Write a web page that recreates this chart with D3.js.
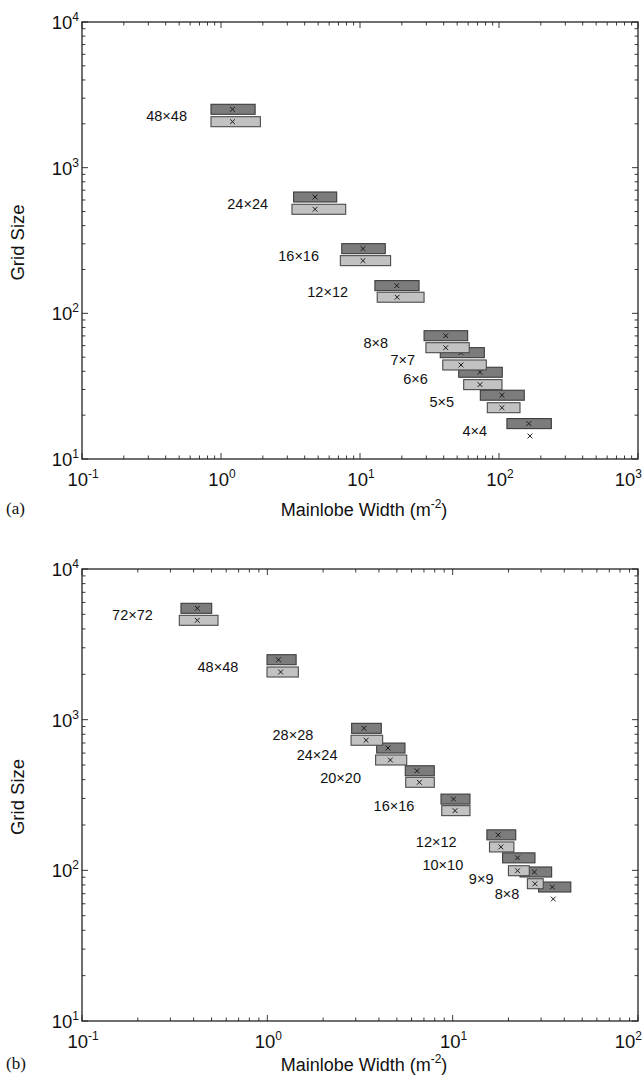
<!DOCTYPE html>
<html><head><meta charset="utf-8">
<script src="https://cdn.jsdelivr.net/npm/d3@7"></script>
<style>body{margin:0;background:#fff}</style>
</head><body>
<svg id="c" width="643" height="1077"></svg>
<script>
// ---------- Panel (a) data ----------
const labelsA   = ["48×48","24×24","16×16","12×12","8×8","7×7","6×6","5×5","4×4"];
const darkLoA   = [0.847, 3.33, 7.39, 12.8, 28.9, 37.8, 51.3, 73.4, 114];
const darkHiA   = [1.76, 6.80, 15.2, 26.6, 59.5, 78.4, 105.6, 152, 238];
const darkMidA  = [1.21, 4.75, 10.5, 18.4, 41.4, 53.3, 73.0, 105, 164];
const darkYA    = [2516, 629, 278, 155, 70.2, 53.7, 39.4, 27.4, 17.5];
const lightLoA  = [0.847, 3.24, 7.22, 13.3, 29.8, 39.4, 55.7, 82.4, null];
const lightHiA  = [1.92, 7.89, 16.6, 28.9, 61.1, 81.0, 105.1, 141.6, null];
const lightMidA = [1.21, 4.75, 10.5, 18.5, 41.4, 53.3, 73.0, 105, 167];
const lightYA   = [2068, 518, 230, 129, 58.1, 44.2, 32.4, 22.5, 14.4];
const labelXA   = [0.569, 2.18, 5.07, 8.20, 15.9, 24.9, 30.8, 47.5, 82.0];
const xTicksA   = [-1, 0, 1, 2, 3];   // exponents
const yTicksA   = [1, 2, 3, 4];

// ---------- Panel (b) data ----------
const labelsB   = ["72×72","48×48","28×28","24×24","20×20","16×16","12×12","10×10","9×9","8×8"];
const darkLoB   = [0.342, 0.996, 2.85, 3.89, 5.55, 8.65, 15.3, 18.6, 23.1, 29.1];
const darkHiB   = [0.501, 1.43, 4.12, 5.53, 7.96, 12.4, 21.9, 27.8, 34.2, 43.4];
const darkMidB  = [0.419, 1.15, 3.32, 4.48, 6.42, 10.1, 17.6, 22.4, 27.6, 34.5];
const darkYB    = [5483, 2500, 876, 648, 458, 297, 172, 121, 97.5, 77.5];
const lightLoB  = [0.335, 0.996, 2.83, 3.84, 5.58, 8.73, 15.8, 20.0, 25.3, null];
const lightHiB  = [0.542, 1.47, 4.19, 5.65, 7.96, 12.4, 21.4, 25.9, 30.8, null];
const lightMidB = [0.419, 1.18, 3.41, 4.61, 6.61, 10.3, 18.2, 22.4, 27.8, 34.9];
const lightYB   = [4564, 2072, 730, 540, 384, 249, 143, 99.4, 81.5, 64.5];
const labelXB   = [0.241, 0.697, 1.77, 2.39, 3.20, 6.21, 10.5, 11.4, 16.6, 22.9];
const xTicksB   = [-1, 0, 1, 2];
const yTicksB   = [1, 2, 3, 4];

const xTitle = "Mainlobe Width (m";
const yTitle = "Grid Size";

const svg = d3.select("#c");
const FONT = "Liberation Sans, Arial, Helvetica, sans-serif";
const TF = 18.5, SF = 12;

function panel(o) {
  const g = svg.append("g");
  const x = d3.scaleLog().domain([Math.pow(10, o.xT[0]), Math.pow(10, o.xT[o.xT.length-1])]).range([o.left, o.right]);
  const y = d3.scaleLog().domain([Math.pow(10, o.yT[0]), Math.pow(10, o.yT[o.yT.length-1])]).range([o.bottom, o.top]);

  // minor + major ticks (inside, all four sides)
  const tg = g.append("g").attr("stroke", "#222").attr("stroke-width", 0.9);
  for (let i = 0; i < o.xT.length; i++) {
    const base = Math.pow(10, o.xT[i]);
    const xv = x(base);
    tg.append("line").attr("x1", xv).attr("x2", xv).attr("y1", o.bottom).attr("y2", o.bottom - 6);
    tg.append("line").attr("x1", xv).attr("x2", xv).attr("y1", o.top).attr("y2", o.top + 6);
    if (i < o.xT.length - 1) for (let m = 2; m <= 9; m++) {
      const xm = x(base * m);
      tg.append("line").attr("x1", xm).attr("x2", xm).attr("y1", o.bottom).attr("y2", o.bottom - 3.5);
      tg.append("line").attr("x1", xm).attr("x2", xm).attr("y1", o.top).attr("y2", o.top + 3.5);
    }
  }
  for (let i = 0; i < o.yT.length; i++) {
    const base = Math.pow(10, o.yT[i]);
    const yv = y(base);
    tg.append("line").attr("y1", yv).attr("y2", yv).attr("x1", o.left).attr("x2", o.left + 6);
    tg.append("line").attr("y1", yv).attr("y2", yv).attr("x1", o.right).attr("x2", o.right - 6);
    if (i < o.yT.length - 1) for (let m = 2; m <= 9; m++) {
      const ym = y(base * m);
      tg.append("line").attr("y1", ym).attr("y2", ym).attr("x1", o.left).attr("x2", o.left + 3.5);
      tg.append("line").attr("y1", ym).attr("y2", ym).attr("x1", o.right).attr("x2", o.right - 3.5);
    }
  }
  g.append("rect").attr("x", o.left).attr("y", o.top).attr("width", o.right - o.left).attr("height", o.bottom - o.top)
    .attr("fill", "none").attr("stroke", "#222").attr("stroke-width", 1.3);

  // tick labels
  o.xT.forEach((e, i) => {
    const last = i === o.xT.length - 1;
    const t = g.append("text").attr("x", last ? 642 : x(Math.pow(10, e)) + 1).attr("y", o.bottom + 27)
      .attr("text-anchor", last ? "end" : "middle").attr("font-family", FONT).attr("font-size", TF).attr("fill", "#111");
    t.append("tspan").text("10");
    t.append("tspan").attr("dy", -8).attr("font-size", SF).text(String(e));
  });
  o.yT.forEach(e => {
    const t = g.append("text").attr("x", o.left - 3).attr("y", y(Math.pow(10, e)) + 7)
      .attr("text-anchor", "end").attr("font-family", FONT).attr("font-size", TF).attr("fill", "#111");
    t.append("tspan").text("10");
    t.append("tspan").attr("dy", -8).attr("font-size", SF).text(String(e));
  });

  // axis titles
  const xt = g.append("text").attr("x", (o.left + o.right) / 2 + 4).attr("y", o.bottom + o.xtOff)
    .attr("text-anchor", "middle").attr("font-family", FONT).attr("font-size", 18).attr("fill", "#111");
  xt.append("tspan").text(xTitle);
  xt.append("tspan").attr("dy", -8).attr("font-size", 12).text("-2");
  xt.append("tspan").attr("dy", 8).text(")");
  g.append("text").attr("transform", `translate(${o.left - 58},${(o.top + o.bottom) / 2 + 2}) rotate(-90)`)
    .attr("text-anchor", "middle").attr("font-family", FONT).attr("font-size", 18.5).attr("fill", "#111")
    .text(yTitle);
  g.append("text").attr("x", 6).attr("y", o.bottom + o.xtOff - 2).attr("font-family", "Liberation Serif, Times New Roman, serif")
    .attr("font-size", 17).attr("fill", "#111").text(o.tag);

  const H = 10;
  const rows = o.labels.map((lab, i) => ({
    lab, dLo: o.dLo[i], dHi: o.dHi[i], dMid: o.dMid[i], dY: o.dY[i],
    lLo: o.lLo[i], lHi: o.lHi[i], lMid: o.lMid[i], lY: o.lY[i], lx: o.lx[i]
  }));

  function boxes(lo, hi, yk, fill, stroke) {
    g.append("g").selectAll("rect").data(rows.filter(r => r[lo] != null)).join("rect")
      .attr("x", r => x(r[lo])).attr("width", r => x(r[hi]) - x(r[lo]))
      .attr("y", r => y(r[yk]) - H / 2).attr("height", H)
      .attr("fill", fill).attr("stroke", stroke).attr("stroke-width", 1.1);
  }
  function marks(mk, yk) {
    const s = 2.4;
    g.append("g").selectAll("path").data(rows).join("path")
      .attr("d", r => {
        const cx = x(r[mk]), cy = y(r[yk]);
        return `M${cx - s},${cy - s}L${cx + s},${cy + s}M${cx - s},${cy + s}L${cx + s},${cy - s}`;
      })
      .attr("stroke", "#1a1a1a").attr("stroke-width", 1).attr("fill", "none");
  }
  boxes("dLo", "dHi", "dY", "#7c7c7c", "#3c3c3c");
  marks("dMid", "dY");
  boxes("lLo", "lHi", "lY", "#c2c2c2", "#4a4a4a");
  marks("lMid", "lY");

  g.append("g").selectAll("text").data(rows).join("text")
    .attr("x", r => x(r.lx)).attr("y", r => Math.sqrt(y(r.dY) * y(r.lY)) + 6)
    .attr("text-anchor", "end").attr("font-family", FONT).attr("font-size", 14.5).attr("fill", "#111")
    .text(r => r.lab);
}

panel({ left: 82, right: 638, top: 22, bottom: 459, xT: xTicksA, yT: yTicksA, tag: "(a)", xtOff: 57,
  labels: labelsA, dLo: darkLoA, dHi: darkHiA, dMid: darkMidA, dY: darkYA,
  lLo: lightLoA, lHi: lightHiA, lMid: lightMidA, lY: lightYA, lx: labelXA });
panel({ left: 82, right: 638, top: 569, bottom: 1021, xT: xTicksB, yT: yTicksB, tag: "(b)", xtOff: 50,
  labels: labelsB, dLo: darkLoB, dHi: darkHiB, dMid: darkMidB, dY: darkYB,
  lLo: lightLoB, lHi: lightHiB, lMid: lightMidB, lY: lightYB, lx: labelXB });
</script>
</body></html>
